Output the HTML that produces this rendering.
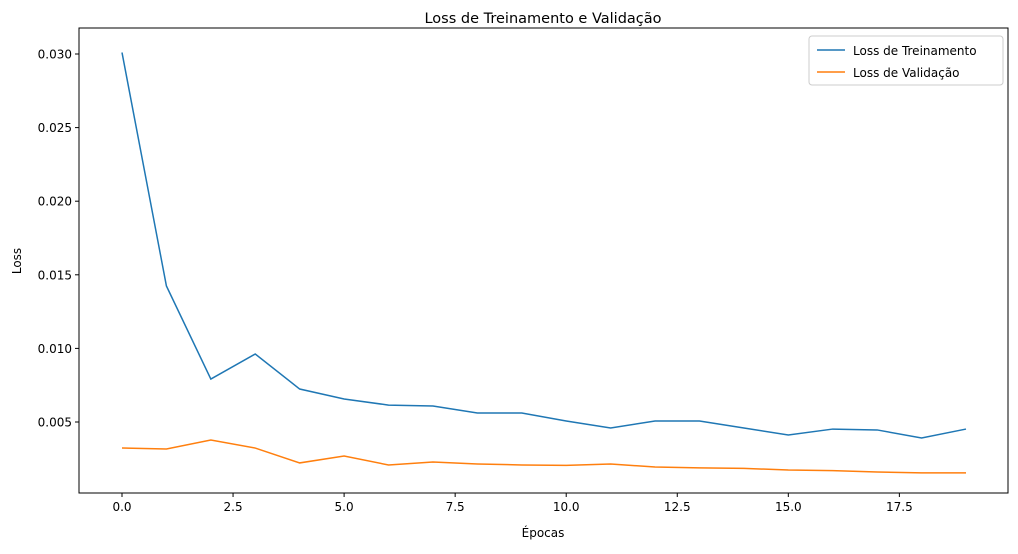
<!DOCTYPE html>
<html><head><meta charset="utf-8"><style>
body{margin:0;background:#fff;font-family:"Liberation Sans","DejaVu Sans",sans-serif;}
svg text{font-family:"DejaVu Sans","Liberation Sans",sans-serif;fill:#000;}
</style></head><body>
<svg id="chart" width="1018" height="549" xmlns="http://www.w3.org/2000/svg">
<rect width="1018" height="549" fill="#fff"/>
<text x="543" y="23" text-anchor="middle" font-size="14.5">Loss de Treinamento e Validação</text>
<g id="plot"></g>
<rect x="79" y="28" width="929" height="465" fill="none" stroke="#000" stroke-width="1"/>
<text x="543" y="537" text-anchor="middle" font-size="12">Épocas</text>
<text transform="translate(21,261) rotate(-90)" text-anchor="middle" font-size="12">Loss</text>
<g>
<rect x="809" y="36" width="194" height="49" fill="#fff" fill-opacity="0.8" stroke="#ccc" rx="3"/>
<line x1="817" y1="50" x2="845" y2="50" stroke="#1f77b4" stroke-width="1.5"/>
<text x="853" y="55" font-size="12">Loss de Treinamento</text>
<line x1="817" y1="72" x2="845" y2="72" stroke="#ff7f0e" stroke-width="1.5"/>
<text x="853" y="77" font-size="12">Loss de Validação</text>
</g>
</svg>
<script>
const epochs=[0,1,2,3,4,5,6,7,8,9,10,11,12,13,14,15,16,17,18,19];
const trainLoss=[0.0301,0.01424,0.00792,0.00962,0.00724,0.00656,0.00615,0.00609,0.00561,0.00561,0.00507,0.00459,0.00507,0.00507,0.00459,0.00412,0.00452,0.00446,0.00391,0.00452];
const valLoss=[0.00323,0.00317,0.00378,0.00323,0.00222,0.00269,0.00208,0.00228,0.00215,0.00208,0.00205,0.00215,0.00194,0.00188,0.00185,0.00174,0.0017,0.0016,0.00154,0.00154];
const xTicks=[0,2.5,5,7.5,10,12.5,15,17.5];
const yTicks=[0.005,0.010,0.015,0.020,0.025,0.030];
const NS="http://www.w3.org/2000/svg";
const xs=v=>122+v*(966-122)/19;
const ys=v=>54+(0.030-v)/0.005*73.6;
const g=document.getElementById('plot');
function mk(t,a){const e=document.createElementNS(NS,t);for(const k in a)e.setAttribute(k,a[k]);g.appendChild(e);return e;}
xTicks.forEach(t=>{const x=xs(t);
 const l=mk('line',{x1:x,y1:493,x2:x,y2:497,stroke:'#000'});
 
 
 const tx=mk('text',{x:x,y:511,'text-anchor':'middle','font-size':'12'});tx.textContent=t.toFixed(1);
 
 });
yTicks.forEach(t=>{const y=ys(t);
 const l=mk('line',{x1:75,y1:y,x2:79,y2:y,stroke:'#000'});
 
 
 const tx=mk('text',{x:72,y:y+4.5,'text-anchor':'end','font-size':'12'});tx.textContent=t.toFixed(3);
 
 });
function line(vals,color,name){const p=mk('polyline',{points:vals.map((v,i)=>xs(epochs[i])+','+ys(v)).join(' '),fill:'none',stroke:color,'stroke-width':1.5});
 
 }
line(trainLoss,'#1f77b4','training-loss-line');
line(valLoss,'#ff7f0e','validation-loss-line');
</script>
</body></html>
